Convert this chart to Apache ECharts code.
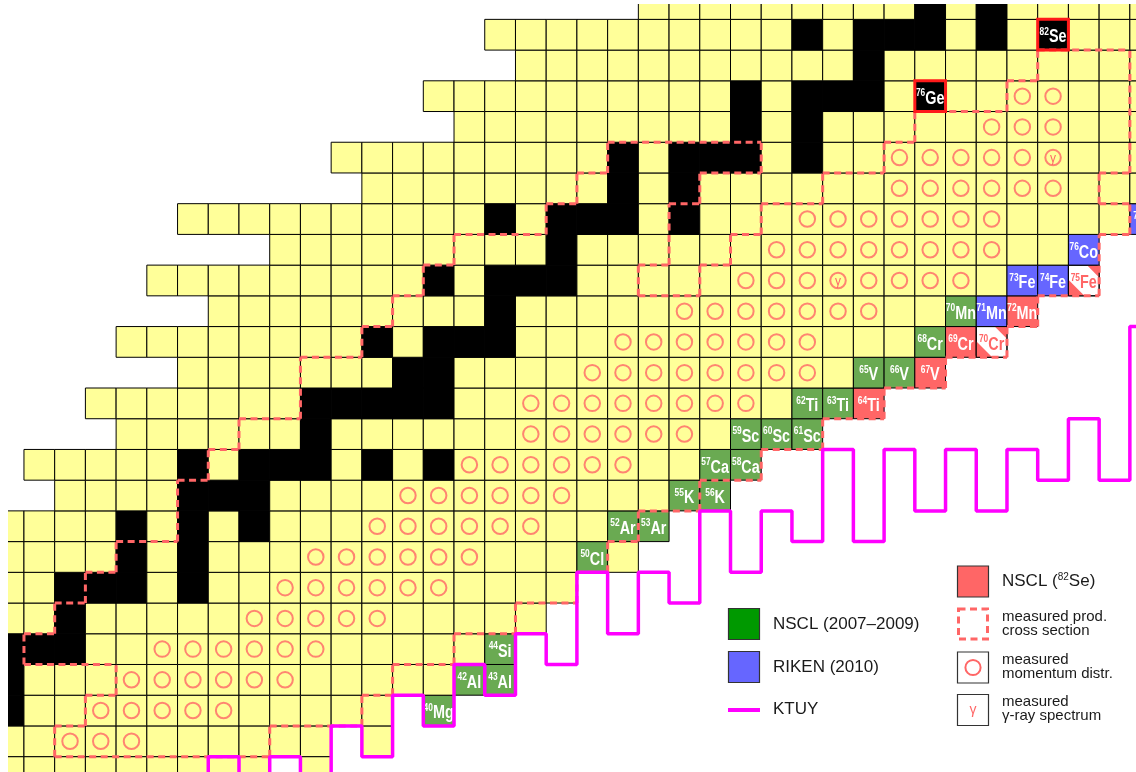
<!DOCTYPE html>
<html>
<head>
<meta charset="utf-8">
<script src="https://cdn.jsdelivr.net/npm/echarts@6/dist/echarts.min.js"></script>
<style>html,body{margin:0;padding:0;background:#fff}#c{width:1136px;height:772px}</style>
</head>
<body>
<div id="c"></div>
<script>
// ---------------- DATA ----------------
// element symbols for Z = 10 .. 35
const elementSymbols = ['Ne','Na','Mg','Al','Si','P','S','Cl','Ar','K','Ca','Sc','Ti','V','Cr','Mn','Fe','Co','Ni','Cu','Zn','Ga','Ge','As','Se','Br'];
// rows of the chart of nuclides (Z) with first and last visible N
const rowZ    = [10,11,12,13,14,15,16,17,18,19,20,21,22,23,24,25,26,27,28,29,30,31,32,33,34,35];
const rowNmin = [14,14,14,14,14,14,14,14,14,16,15,18,17,20,18,21,19,23,20,26,25,29,28,31,30,35];
const rowNmax = [24,26,28,30,30,31,32,34,35,37,38,40,42,44,46,47,49,49,51,51,51,51,51,51,51,51];
// particle-unbound gaps inside rows  [Z, N]
const unboundCells = [[10,23],[11,25],[12,27]];
// stable nuclei [Z, N]
const stableCells = [
  [12,14],[13,14],[14,14],[14,15],[14,16],[15,16],[16,16],[16,17],[16,18],[16,20],
  [17,18],[17,20],[18,18],[18,20],[18,22],[19,20],[19,21],[19,22],
  [20,20],[20,22],[20,23],[20,24],[20,26],[20,28],[21,24],
  [22,24],[22,25],[22,26],[22,27],[22,28],[23,27],[23,28],
  [24,26],[24,28],[24,29],[24,30],[25,30],[26,28],[26,30],[26,31],[26,32],[27,32],
  [28,30],[28,32],[28,33],[28,34],[28,36],[29,34],[29,36],
  [30,34],[30,36],[30,37],[30,38],[30,40],[31,38],[31,40],
  [32,38],[32,40],[32,41],[32,42],[32,44],[33,42],
  [34,40],[34,42],[34,43],[34,44],[34,46],[34,48],[35,44],[35,46]
];
// new isotopes [Z, N]
const nsclCells  = [[12,28],[13,29],[13,30],[14,30],[17,33],[18,34],[18,35],[19,36],[19,37],[20,37],
                    [20,38],[21,38],[21,39],[21,40],[22,40],[22,41],[23,42],[23,43],[24,44],[25,45]];
const rikenCells = [[25,46],[26,47],[26,48],[27,49],[28,51]];
const se82Cells  = [[22,42],[23,44],[24,45],[25,47]];
const partialCells = [[24,46],[26,49]];
// primary beams (stable, red frame) [Z, N]
const beamCells = [[34,48],[32,44]];
// measured momentum distributions: [Z, Nmin, Nmax]
const momentumRanges = [
  [11,16,18],[12,17,21],[13,18,23],[14,19,24],[15,22,26],[16,23,28],[17,24,29],[18,26,31],
  [19,27,32],[20,29,34],[21,31,36],[22,31,38],[23,33,40],[24,34,40],[25,36,42],[26,38,45],
  [27,39,46],[28,40,46],[29,43,48],[30,43,48],[31,46,48],[32,47,48]
];
// measured gamma-ray spectra [Z, N]
const gammaCells = [[26,41],[30,48]];
// measured production cross sections: [Z, Nmin, Nmax]
const xsecRanges = [
  [11,16,22],[12,17,25],[13,18,26],[14,15,28],[15,16,30],[16,17,32],[17,18,33],[18,20,34],
  [19,20,36],[20,21,38],[21,22,40],[22,24,42],[23,24,44],[24,26,46],[25,27,47],
  [26,28,34],[26,37,49],[27,29,35],[27,38,49],[28,32,35],[28,39,50],[29,33,36],[29,41,49],
  [30,34,38],[30,43,50],[31,44,50],[32,47,50],[33,48,50]
];
// KTUY drip line: neutron number and the Z edge of the step above that column
const ktuyN     = [20,21,22,23,24,25,26,27,28,29,30,31,32,33,34,35,36,37,38,39,40,41,42,43,44,45,46,47,48,49,50,51,52];
const ktuyEdgeZ = [9,10.5,9.5,10.5,9.5,11.5,10.5,12.5,11.5,13.5,12.5,14.5,13.5,16.5,14.5,16.5,15.5,18.5,16.5,18.5,17.5,20.5,17.5,20.5,18.5,20.5,18.5,20.5,19.5,21.5,19.5,24.5,24.5];

// ---------------- BUILD ----------------
const FONT = '"Liberation Sans", Arial, Helvetica, sans-serif';
const KIND_FILL = ['#FFFF99', '#000000', '#6AAA52', '#6666FF', '#FF6666', '#FFFFFF'];
const key = (z, n) => z + ',' + n;
const kindMap = new Map();
stableCells.forEach(([z, n]) => kindMap.set(key(z, n), 1));
nsclCells.forEach(([z, n]) => kindMap.set(key(z, n), 2));
rikenCells.forEach(([z, n]) => kindMap.set(key(z, n), 3));
se82Cells.forEach(([z, n]) => kindMap.set(key(z, n), 4));
partialCells.forEach(([z, n]) => kindMap.set(key(z, n), 5));
const beamSet = new Set(beamCells.map(([z, n]) => key(z, n)));
const gapSet = new Set(unboundCells.map(([z, n]) => key(z, n)));

const cellData = [];
rowZ.forEach((z, i) => {
  for (let n = rowNmin[i]; n <= rowNmax[i]; n++) {
    if (gapSet.has(key(z, n))) continue;
    let k = kindMap.has(key(z, n)) ? kindMap.get(key(z, n)) : 0;
    if (beamSet.has(key(z, n))) k = 6;
    cellData.push([n, z, k]);
  }
});

const circleData = [];
momentumRanges.forEach(([z, a, b]) => { for (let n = a; n <= b; n++) circleData.push([n, z]); });
const gammaData = gammaCells.map(([z, n]) => [n, z]);
const beamData = beamCells.map(([z, n]) => [n, z]);

// outline of the cross-section region: boundary edges, merged along lines
const xsecSet = new Set();
xsecRanges.forEach(([z, a, b]) => { for (let n = a; n <= b; n++) xsecSet.add(key(z, n)); });
const hLines = {}, vLines = {};
const addEdge = (m, line, start) => { (m[line] = m[line] || []).push(start); };
xsecSet.forEach(k => {
  const [z, n] = k.split(',').map(Number);
  if (!xsecSet.has(key(z + 1, n))) addEdge(hLines, z + 0.5, n - 0.5);
  if (!xsecSet.has(key(z - 1, n))) addEdge(hLines, z - 0.5, n - 0.5);
  if (!xsecSet.has(key(z, n - 1))) addEdge(vLines, n - 0.5, z - 0.5);
  if (!xsecSet.has(key(z, n + 1))) addEdge(vLines, n + 0.5, z - 0.5);
});
const outlineData = [];
const mergeLines = (m, horizontal) => {
  Object.keys(m).forEach(lineKey => {
    const line = Number(lineKey);
    const starts = m[lineKey].sort((a, b) => a - b);
    let s = starts[0], e = starts[0] + 1;
    for (let i = 1; i <= starts.length; i++) {
      if (i < starts.length && Math.abs(starts[i] - e) < 1e-9) { e += 1; continue; }
      outlineData.push(horizontal ? [s, line, e, line] : [line, s, line, e]);
      if (i < starts.length) { s = starts[i]; e = starts[i] + 1; }
    }
  });
};
mergeLines(hLines, true);
mergeLines(vLines, false);

const ktuyData = ktuyN.map((n, i) => [n, ktuyEdgeZ[i]]);

// ---------------- RENDER ----------------
function labelText(n, z, color) {
  return {
    text: '{s|' + (z + n) + '}{e|' + elementSymbols[z - 10] + '}',
    x: 0, y: 0,
    align: 'center', verticalAlign: 'middle', textAlign: 'center', textVerticalAlign: 'middle',
    fill: color,
    rich: {
      s: { fontSize: 10.5, fontWeight: 'bold', fontFamily: FONT, lineHeight: 8.5, verticalAlign: 'top', fill: color, color: color },
      e: { fontSize: 18, fontWeight: 'bold', fontFamily: FONT, lineHeight: 20, verticalAlign: 'bottom', fill: color, color: color }
    }
  };
}

function renderCell(params, api) {
  const n = api.value(0), z = api.value(1), kind = api.value(2);
  const p0 = api.coord([n - 0.5, z + 0.5]);
  const p1 = api.coord([n + 0.5, z - 0.5]);
  const x = p0[0], y = p0[1], w = p1[0] - p0[0], h = p1[1] - p0[1];
  const fill = kind === 6 ? '#000000' : KIND_FILL[kind];
  const ch = [{ type: 'rect', shape: { x: x, y: y, width: w, height: h }, style: { fill: fill, stroke: '#000', lineWidth: 1 } }];
  if (kind === 5) {
    const a = 0.4 * w, b = 0.52 * w;
    ch.push({ type: 'polygon', shape: { points: [[x + w - a, y], [x + w, y], [x + w, y + a]] }, style: { fill: '#FF6666' } });
    ch.push({ type: 'polygon', shape: { points: [[x, y + h - b], [x, y + h], [x + b, y + h]] }, style: { fill: '#FF6666' } });
    ch.push({ type: 'rect', shape: { x: x, y: y, width: w, height: h }, style: { fill: 'none', stroke: '#000', lineWidth: 1 } });
  }
  if (kind >= 2) {
    ch.push({ type: 'text', x: x + w / 2, y: y + h / 2 + 1.8, scaleX: 0.8, scaleY: 1,
      style: labelText(n, z, kind === 5 ? '#FF6666' : '#FFFFFF') });
  }
  return { type: 'group', children: ch };
}

function renderOutline(params, api) {
  const a = api.coord([api.value(0), api.value(1)]);
  const b = api.coord([api.value(2), api.value(3)]);
  return { type: 'line', shape: { x1: a[0], y1: a[1], x2: b[0], y2: b[1] },
    style: { stroke: '#FF6666', lineWidth: 3, lineDash: [7, 4.5], fill: null } };
}

function renderGamma(params, api) {
  const p = api.coord([api.value(0), api.value(1)]);
  return { type: 'text', x: p[0], y: p[1] + 1, style: { text: 'γ', x: 0, y: 0, align: 'center', verticalAlign: 'middle',
    textAlign: 'center', textVerticalAlign: 'middle', fill: '#FF6666', fontSize: 12, fontFamily: FONT } };
}

function renderBeam(params, api) {
  const n = api.value(0), z = api.value(1);
  const p0 = api.coord([n - 0.5, z + 0.5]);
  const p1 = api.coord([n + 0.5, z - 0.5]);
  return { type: 'rect', shape: { x: p0[0], y: p0[1], width: p1[0] - p0[0], height: p1[1] - p0[1] },
    style: { fill: 'none', stroke: '#FF1A1A', lineWidth: 3 } };
}

const TXT = '#1A1A1A';
const legend = [
  { type: 'rect', shape: { x: 728.5, y: 608.5, width: 31, height: 31 }, style: { fill: '#009900', stroke: '#333', lineWidth: 1.2 } },
  { type: 'text', x: 773, y: 624, style: { text: 'NSCL (2007–2009)', fontSize: 17, fontFamily: FONT, fill: TXT, verticalAlign: 'middle', textVerticalAlign: 'middle' } },
  { type: 'rect', shape: { x: 728.5, y: 651.5, width: 31, height: 31 }, style: { fill: '#6666FF', stroke: '#333', lineWidth: 1.2 } },
  { type: 'text', x: 773, y: 667, style: { text: 'RIKEN (2010)', fontSize: 17, fontFamily: FONT, fill: TXT, verticalAlign: 'middle', textVerticalAlign: 'middle' } },
  { type: 'line', shape: { x1: 728, y1: 710, x2: 760, y2: 710 }, style: { stroke: '#FF00FF', lineWidth: 4 } },
  { type: 'text', x: 773, y: 709, style: { text: 'KTUY', fontSize: 17, fontFamily: FONT, fill: TXT, verticalAlign: 'middle', textVerticalAlign: 'middle' } },

  { type: 'rect', shape: { x: 957.5, y: 566, width: 31, height: 31 }, style: { fill: '#FF6666', stroke: '#333', lineWidth: 1.2 } },
  { type: 'text', x: 1002, y: 581, style: { text: 'NSCL ({s|82}Se)', fontSize: 17, fontFamily: FONT, fill: TXT, verticalAlign: 'middle', textVerticalAlign: 'middle',
      rich: { s: { fontSize: 10, fontFamily: FONT, fill: TXT, color: TXT, lineHeight: 10, verticalAlign: 'top' } } } },
  { type: 'rect', shape: { x: 958.5, y: 609, width: 29, height: 30 }, style: { fill: 'none', stroke: '#FF6666', lineWidth: 3, lineDash: [7, 4.5] } },
  { type: 'text', x: 1002, y: 624, style: { text: 'measured prod.\ncross section', fontSize: 15, lineHeight: 14.5, fontFamily: FONT, fill: TXT, verticalAlign: 'middle', textVerticalAlign: 'middle' } },
  { type: 'rect', shape: { x: 957.5, y: 652, width: 31, height: 31 }, style: { fill: '#fff', stroke: '#333', lineWidth: 1.2 } },
  { type: 'circle', shape: { cx: 973, cy: 667.5, r: 7.6 }, style: { fill: 'none', stroke: '#FF6666', lineWidth: 2 } },
  { type: 'text', x: 1002, y: 667, style: { text: 'measured\nmomentum distr.', fontSize: 15, lineHeight: 14.5, fontFamily: FONT, fill: TXT, verticalAlign: 'middle', textVerticalAlign: 'middle' } },
  { type: 'rect', shape: { x: 957.5, y: 694.5, width: 31, height: 31 }, style: { fill: '#fff', stroke: '#333', lineWidth: 1.2 } },
  { type: 'text', x: 973, y: 710.5, style: { text: 'γ', fontSize: 14, fontFamily: FONT, fill: '#FF6666', align: 'center', textAlign: 'center', verticalAlign: 'middle', textVerticalAlign: 'middle' } },
  { type: 'text', x: 1002, y: 709, style: { text: 'measured\nγ-ray spectrum', fontSize: 15, lineHeight: 14.5, fontFamily: FONT, fill: TXT, verticalAlign: 'middle', textVerticalAlign: 'middle' } }
];

const chart = echarts.init(document.getElementById('c'), null, { renderer: 'canvas' });
chart.setOption({
  animation: false,
  backgroundColor: '#fff',
  grid: { left: 8.6, top: 4, width: 1127.4, height: 768, show: false },
  xAxis: { type: 'value', min: 14, max: 50.7, show: false },
  yAxis: { type: 'value', min: 10, max: 35, show: false },
  tooltip: { show: false },
  series: [
    { type: 'custom', name: 'cells', data: cellData, renderItem: renderCell, clip: true, silent: true, z: 1,
      encode: { x: 0, y: 1 } },
    { type: 'custom', name: 'measured prod. cross section', data: outlineData, renderItem: renderOutline, clip: true, silent: true, z: 2,
      encode: { x: [0, 2], y: [1, 3] } },
    { type: 'scatter', name: 'measured momentum distr.', data: circleData, symbol: 'circle', symbolSize: 15.5, silent: true, z: 3,
      itemStyle: { color: 'rgba(0,0,0,0)', borderColor: '#FF6666', borderWidth: 2 } },
    { type: 'custom', name: 'measured γ-ray spectrum', data: gammaData, renderItem: renderGamma, clip: true, silent: true, z: 3,
      encode: { x: 0, y: 1 } },
    { type: 'line', name: 'KTUY', data: ktuyData, step: 'middle', symbol: 'none', silent: true, z: 4, clip: true,
      lineStyle: { color: '#FF00FF', width: 3.5 } },
    { type: 'custom', name: 'beams', data: beamData, renderItem: renderBeam, clip: true, silent: true, z: 5,
      encode: { x: 0, y: 1 } }
  ],
  graphic: { elements: legend }
});
</script>
</body>
</html>
